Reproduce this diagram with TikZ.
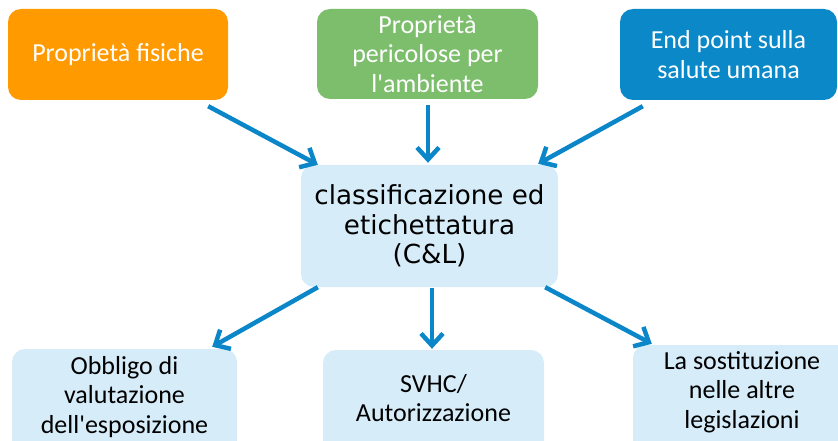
\documentclass[tikz,border=0pt]{standalone}
\usepackage{fontspec}
\newfontfamily\carl{Carlito}
\newfontfamily\dejavu{DejaVu Sans}
\usetikzlibrary{arrows.meta}
\definecolor{orangebox}{HTML}{FF9A00}
\definecolor{greenbox}{HTML}{7DBE6D}
\definecolor{bluebox}{HTML}{0A88C8}
\definecolor{lightbox}{HTML}{D6ECF9}
\definecolor{arrowblue}{HTML}{0B87C9}
\tikzset{
  box/.style={rectangle, rounded corners=13pt, inner sep=0pt, align=center,
    font=\carl\fontsize{26}{29.5}\selectfont},
  topbox/.style={box, text=white},
  centerbox/.style={box, fill=lightbox, text=black,
    font=\dejavu\fontsize{26.2}{29.5}\selectfont},
  lowbox/.style={box, fill=lightbox},
  lowtext/.style={align=center, inner sep=0pt, text=black,
    font=\carl\fontsize{26}{29.5}\selectfont},
  arr/.style={draw=arrowblue, line width=4.5pt,
    -{Straight Barb[length=12pt,width=22pt,line width=4.5pt]}},
}
\begin{document}
\begin{tikzpicture}[x=1pt,y=-1pt]
\useasboundingbox (0,0) rectangle (838,441);
\clip (0,0) rectangle (838,441);
\node[topbox, fill=orangebox, minimum width=220pt, minimum height=91pt] (o) at (118,54.5) {Proprietà fisiche};
\node[topbox, fill=greenbox, minimum width=221pt, minimum height=90pt] (g) at (427.5,54) {Proprietà\\pericolose per\\l'ambiente};
\node[topbox, fill=bluebox, minimum width=217pt, minimum height=91pt] (b) at (728.5,54.5) {End point sulla\\salute umana};
\node[centerbox, minimum width=257pt, minimum height=122pt] (c) at (429.5,226) {classificazione ed\\etichettatura\\(C\&L)};
\node[lowbox, minimum width=225pt, minimum height=111pt] (bl) at (124.5,404.5) {};
\node[lowbox, minimum width=221pt, minimum height=110pt] (bm) at (433.5,405) {};
\node[lowbox, minimum width=218pt, minimum height=115pt] (br) at (742,402.5) {};
\node[lowtext] (blt) at (124.5,397) {Obbligo di\\valutazione\\dell'esposizione};
\node[lowtext] (bmt) at (433.5,398) {SVHC/\\Autorizzazione};
\node[lowtext] (brt) at (742,392) {La sostituzione\\nelle altre\\legislazioni};
\draw[arr] ([shift={(-20,6)}]o.south east) -- ([shift={(17,0)}]c.north west);
\draw[arr] ([shift={(0.5,6)}]g.south) -- ([shift={(-1.5,-2)}]c.north);
\draw[arr] ([shift={(23,6)}]b.south west) -- ([shift={(-20,-1)}]c.north east);
\draw[arr] ([shift={(17,0)}]c.south west) -- ([shift={(-25,-2)}]bl.north east);
\draw[arr] ([shift={(2.5,1)}]c.south) -- ([shift={(-1.5,-1)}]bm.north);
\draw[arr] ([shift={(-13,0)}]c.south east) -- ([shift={(19,-1)}]br.north west);
\end{tikzpicture}
\end{document}
